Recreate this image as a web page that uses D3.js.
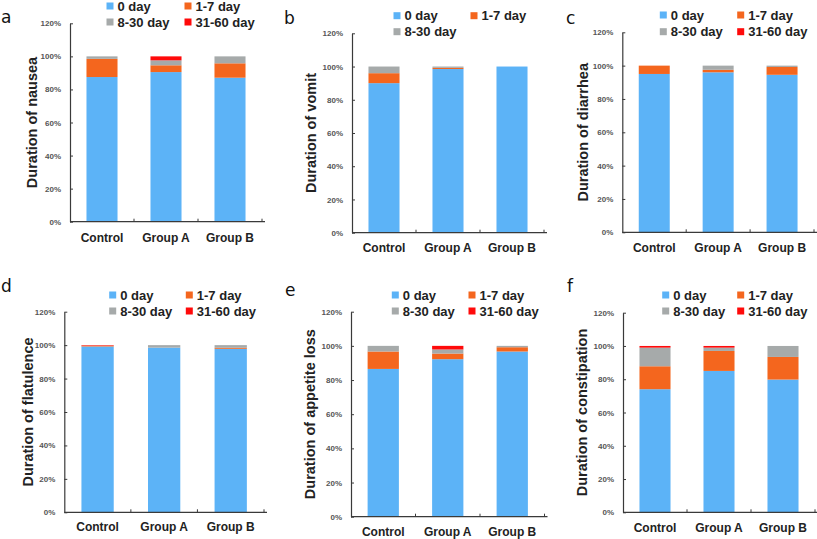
<!DOCTYPE html>
<html><head><meta charset="utf-8">
<script src="https://cdn.jsdelivr.net/npm/d3@7/dist/d3.min.js"></script>
<style>body{margin:0;background:#fff}svg{display:block}</style>
</head><body>
<svg id="chart" width="817" height="539"></svg>
<script>
// ---- data ----
const categories = ["Control", "Group A", "Group B"];
const seriesNames = ["0 day", "1-7 day", "8-30 day", "31-60 day"];
const yTicks = [0, 20, 40, 60, 80, 100, 120];
// values per category: [0 day, 1-7 day, 8-30 day, 31-60 day] (%)
const nausea      = [[87.5, 11.0, 1.5, 0], [90.5, 4.1, 3.0, 2.4], [87.1, 8.7, 4.2, 0]];
const vomit       = [[90.0, 6.0, 4.0, 0], [98.5, 0.7, 0.8, 0], [100, 0, 0, 0]];
const diarrhea    = [[95.0, 5.0, 0, 0], [96.0, 1.5, 2.5, 0], [94.5, 4.7, 0.8, 0]];
const flatulence  = [[99.2, 0.5, 0, 0.3], [98.5, 0, 1.5, 0], [97.8, 0.6, 1.6, 0]];
const appetiteLoss= [[86.5, 10.2, 3.3, 0], [92.2, 3.3, 2.4, 2.1], [96.7, 2.5, 0.8, 0]];
const constipation= [[74.0, 13.8, 11.2, 1.0], [85.0, 12.0, 2.0, 1.0], [79.8, 13.6, 6.6, 0]];

const colors = ["#5cb3f7", "#f4661e", "#a6aaaa", "#ff0a0a"];

const panels = [
  {letter:"a", title:"Duration of nausea", data:nausea, legendN:4,
   left:70, right:262, top:23.3, bottom:221.7, lx:[110,188], ly:[6,22], letterPos:[1,23], catY:242, titleX:32},
  {letter:"b", title:"Duration of vomit", data:vomit, legendN:3,
   left:352, right:544, top:33.3, bottom:232.7, lx:[397,474], ly:[15.7,31.7], letterPos:[284,24], catY:252, titleX:311},
  {letter:"c", title:"Duration of diarrhea", data:diarrhea, legendN:4,
   left:622.3, right:814, top:32.3, bottom:232.3, lx:[663.3,740.7], ly:[15,31.7], letterPos:[566,24], catY:252, titleX:583},
  {letter:"d", title:"Duration of flatulence", data:flatulence, legendN:4,
   left:64.3, right:264, top:311.7, bottom:512.3, lx:[112.7,189.3], ly:[295,311], letterPos:[1,292], catY:531, titleX:28},
  {letter:"e", title:"Duration of appetite loss", data:appetiteLoss, legendN:4,
   left:351, right:544.5, top:311.7, bottom:516.7, lx:[395.3,472], ly:[295,311], letterPos:[285,296], catY:536, titleX:310},
  {letter:"f", title:"Duration of constipation", data:constipation, legendN:4,
   left:623, right:815, top:312.7, bottom:512.3, lx:[665.7,740.7], ly:[295,311], letterPos:[567,292], catY:532, titleX:582}
];

const svg = d3.select("#chart");
const font = "Arial, 'Liberation Sans', sans-serif";
const axisColor = "#3a3a3a";

panels.forEach(p => {
  const g = svg.append("g");
  const x = d3.scaleBand().domain(categories).range([p.left, p.right]).paddingInner(0).paddingOuter(0);
  const y = d3.scaleLinear().domain([0, 120]).range([p.bottom, p.top]);
  const barW = x.bandwidth() * 0.485;

  // stacked data
  const rows = p.data.map((v, i) => {
    const o = {cat: categories[i]};
    seriesNames.forEach((s, j) => o[s] = v[j]);
    return o;
  });
  const stack = d3.stack().keys(seriesNames)(rows);
  stack.forEach((layer, j) => {
    g.selectAll(null).data(layer).enter().append("rect")
      .attr("x", d => x(d.data.cat) + (x.bandwidth() - barW) / 2)
      .attr("width", barW)
      .attr("y", d => y(d[1]))
      .attr("height", d => Math.max(0, y(d[0]) - y(d[1])))
      .attr("fill", colors[j]);
  });

  // y axis
  const yAxis = d3.axisLeft(y).tickValues(yTicks).tickFormat(d => d + "%").tickSizeInner(-3).tickSizeOuter(0).tickPadding(9);
  const ya = g.append("g").attr("transform", `translate(${p.left},0)`).call(yAxis);
  ya.select(".domain").attr("stroke", axisColor).attr("stroke-width", 1.2);
  ya.selectAll(".tick line").attr("stroke", axisColor);
  ya.selectAll(".tick text").attr("font-family", font).attr("font-size", 8).attr("font-weight", "bold").attr("fill", "#555");

  // x axis: line with inward ticks at band boundaries
  g.append("line").attr("x1", p.left).attr("x2", p.right + 3).attr("y1", p.bottom).attr("y2", p.bottom)
    .attr("stroke", axisColor).attr("stroke-width", 1.2);
  const bounds = categories.map(c => x(c) + x.bandwidth());
  g.selectAll(null).data(bounds).enter().append("line")
    .attr("x1", d => d).attr("x2", d => d).attr("y1", p.bottom).attr("y2", p.bottom - 3)
    .attr("stroke", axisColor);
  g.selectAll(null).data(categories).enter().append("text")
    .attr("x", d => x(d) + x.bandwidth() / 2).attr("y", p.catY)
    .attr("text-anchor", "middle").attr("font-family", font).attr("font-size", 12).attr("font-weight", "bold")
    .attr("fill", "#222").text(d => d);

  // y title
  g.append("text").attr("transform", `translate(${p.titleX},${(p.top + p.bottom) / 2}) rotate(-90)`)
    .attr("text-anchor", "middle").attr("dominant-baseline", "central")
    .attr("font-family", font).attr("font-size", 14.5).attr("font-weight", "bold").attr("fill", "#222")
    .text(p.title);

  // panel letter
  g.append("text").attr("x", p.letterPos[0]).attr("y", p.letterPos[1])
    .attr("font-family", "'DejaVu Sans', sans-serif").attr("font-size", 17).attr("fill", "#111").text(p.letter);

  // legend
  seriesNames.slice(0, p.legendN).forEach((s, j) => {
    const lx = p.lx[j % 2], ly = p.ly[Math.floor(j / 2)];
    g.append("rect").attr("x", lx - 3.5).attr("y", ly - 3.5).attr("width", 7).attr("height", 7).attr("fill", colors[j]);
    g.append("text").attr("x", lx + 7.5).attr("y", ly).attr("dominant-baseline", "central")
      .attr("font-family", font).attr("font-size", 13).attr("font-weight", "bold").attr("fill", "#222").text(s);
  });
});
</script>
</body></html>
